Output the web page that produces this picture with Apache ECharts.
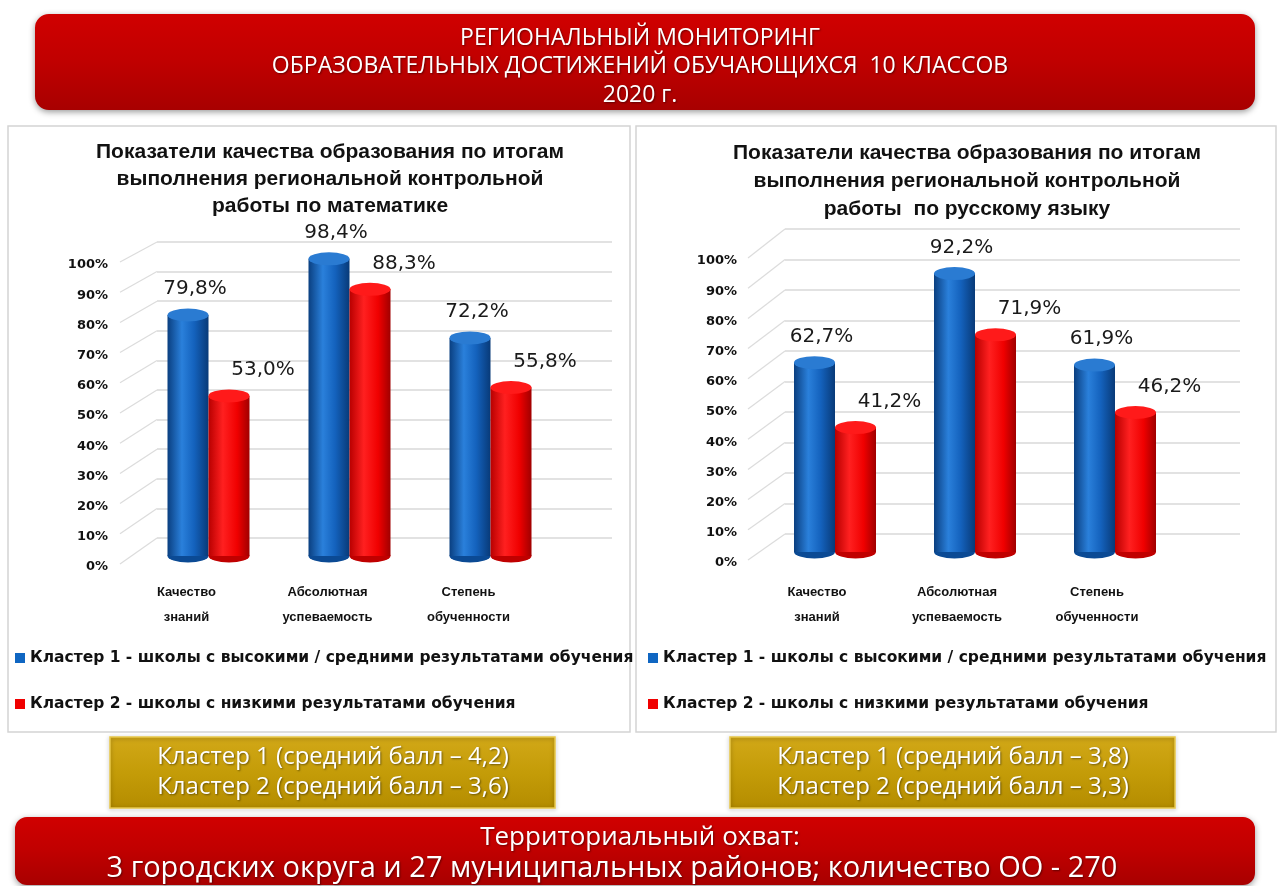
<!DOCTYPE html>
<html>
<head>
<meta charset="utf-8">
<script src="https://cdn.jsdelivr.net/npm/echarts@6/dist/echarts.min.js"></script>
<style>
html, body { margin: 0; padding: 0; background: #fff; }
#chart { width: 1279px; height: 886px; }
</style>
</head>
<body>
<div id="chart"></div>
<script>
// data
const categories = ['Качество\nзнаний', 'Абсолютная\nуспеваемость', 'Степень\nобученности']
const mathCluster1 = [79.8, 98.4, 72.2]
const mathCluster2 = [53.0, 88.3, 55.8]
const rusCluster1 = [62.7, 92.2, 61.9]
const rusCluster2 = [41.2, 71.9, 46.2]
const yTicks = [0, 10, 20, 30, 40, 50, 60, 70, 80, 90, 100]
const clusterNames = [
  'Кластер 1 - школы с высокими / средними результатами обучения',
  'Кластер 2 - школы с низкими результатами обучения'
]
const mathTitle = 'Показатели качества образования по итогам\nвыполнения региональной контрольной\nработы по математике'
const rusTitle = 'Показатели качества образования по итогам\nвыполнения региональной контрольной\nработы  по русскому языку'
const headerLines = ['РЕГИОНАЛЬНЫЙ МОНИТОРИНГ', 'ОБРАЗОВАТЕЛЬНЫХ ДОСТИЖЕНИЙ ОБУЧАЮЩИХСЯ  10 КЛАССОВ', '2020 г.']
const mathScores = ['Кластер 1 (средний балл – 4,2)', 'Кластер 2 (средний балл – 3,6)']
const rusScores = ['Кластер 1 (средний балл – 3,8)', 'Кластер 2 (средний балл – 3,3)']
const footerLines = ['Территориальный охват:', '3 городских округа и 27 муниципальных районов; количество ОО - 270']

const BLUE = '#0f66c2'
const RED = '#f00000'
const blueFill = {
  type: 'linear', x: 0, y: 0, x2: 1, y2: 0,
  colorStops: [
    { offset: 0, color: '#0a3f80' }, { offset: 0.35, color: '#2a80db' },
    { offset: 0.65, color: '#1462bd' }, { offset: 1, color: '#083a78' }
  ]
}
const redFill = {
  type: 'linear', x: 0, y: 0, x2: 1, y2: 0,
  colorStops: [
    { offset: 0, color: '#b80000' }, { offset: 0.35, color: '#ff2020' },
    { offset: 0.7, color: '#f00000' }, { offset: 1, color: '#a00000' }
  ]
}

const pctLabel = p => p.value.toFixed(1).replace('.', ',') + '%'
const FONT = 'Liberation Sans'

function wallAxes (gi) {
  return {
    x: { gridIndex: gi, type: 'category', data: categories, show: false },
    y: {
      gridIndex: gi, type: 'value', min: 0, max: 100, interval: 10,
      axisLabel: { show: false }, axisLine: { show: false }, axisTick: { show: false },
      splitLine: { lineStyle: { color: '#d9d9d9', width: 1.5 } }
    }
  }
}

function barAxes (gi, xMargin, shift, yMargin) {
  return {
    x: {
      gridIndex: gi, type: 'category', data: categories,
      axisLine: { show: false }, axisTick: { show: false },
      axisLabel: {
        margin: xMargin, fontFamily: FONT, fontWeight: 'bold', fontSize: 13,
        color: '#111', lineHeight: 25, padding: [0, shift, 0, 0]
      }
    },
    y: {
      gridIndex: gi, type: 'value', min: 0, max: 100, interval: 10,
      axisLine: { show: false }, axisTick: { show: false }, splitLine: { show: false },
      axisLabel: {
        formatter: '{value}%', fontFamily: 'DejaVu Sans', fontWeight: 'bold',
        fontSize: 13, color: '#111', margin: yMargin, verticalAlign: 'top', lineHeight: 22
      }
    }
  }
}

function chartSeries (gi, c1, c2) {
  const ax = { xAxisIndex: gi, yAxisIndex: gi }
  const cap = (data, color, pos, off, z) => Object.assign({
    type: 'pictorialBar', data: data, symbol: 'circle', symbolSize: [41, 13],
    symbolPosition: pos, symbolOffset: off, barWidth: 41, barGap: '-100%',
    itemStyle: { color: color }, z: z, silent: true
  }, ax)
  return [
    Object.assign({
      name: clusterNames[0], type: 'bar', data: c1, barWidth: 41, barGap: '0%',
      itemStyle: { color: blueFill }, z: 2,
      label: { show: true, position: 'top', distance: 16, offset: [7, 0], formatter: pctLabel,
        fontFamily: 'DejaVu Sans', fontSize: 20, color: '#1a1a1a' }
    }, ax),
    Object.assign({
      name: clusterNames[1], type: 'bar', data: c2, barWidth: 41, barGap: '0%',
      itemStyle: { color: redFill }, z: 2,
      label: { show: true, position: 'top', distance: 16, offset: [34, 0], formatter: pctLabel,
        fontFamily: 'DejaVu Sans', fontSize: 20, color: '#1a1a1a' }
    }, ax),
    cap(c1, '#2a7bd2', 'end', ['-50%', '-50%'], 3),
    cap(c2, '#ff1a1a', 'end', ['50%', '-50%'], 3),
    cap(c1, '#0b4a94', 'start', ['-50%', '50%'], 1),
    cap(c2, '#c00000', 'start', ['50%', '50%'], 1)
  ]
}

const w0 = wallAxes(0), b1 = barAxes(1, 24, 44, 30), w2 = wallAxes(2), b3 = barAxes(3, 28, 36, 28)

function legendFor (left) {
  return {
    left: left, top: 645, orient: 'vertical', itemGap: 30, itemWidth: 10, itemHeight: 10,
    icon: 'rect', selectedMode: false,
    textStyle: { fontFamily: 'DejaVu Sans', fontWeight: 'bold', fontSize: 15.5, color: '#111' },
    data: [
      { name: clusterNames[0], itemStyle: { color: BLUE } },
      { name: clusterNames[1], itemStyle: { color: RED } }
    ]
  }
}

function centerText (x, y, text, size, weight) {
  return {
    type: 'text', x: x, y: y, z: 20,
    style: {
      text: text, fill: '#fff', font: weight + ' ' + size + 'px "Open Sans"',
      align: 'center', verticalAlign: 'middle',
      textShadowColor: 'rgba(0,0,0,0.45)', textShadowBlur: 2, textShadowOffsetX: 1, textShadowOffsetY: 1
    }
  }
}

const redBanner = {
  type: 'linear', x: 0, y: 0, x2: 0, y2: 1,
  colorStops: [{ offset: 0, color: '#d00000' }, { offset: 0.5, color: '#c00000' }, { offset: 1, color: '#a80000' }]
}
const goldFill = {
  type: 'linear', x: 0, y: 0, x2: 0, y2: 1,
  colorStops: [{ offset: 0, color: '#d2a818' }, { offset: 0.5, color: '#c49c08' }, { offset: 1, color: '#b48c00' }]
}

const graphics = [
  { type: 'rect', shape: { x: 8, y: 126, width: 622, height: 606 }, style: { fill: 'none', stroke: '#d4d4d4', lineWidth: 1.5 }, z: 0 },
  { type: 'rect', shape: { x: 636, y: 126, width: 640, height: 606 }, style: { fill: 'none', stroke: '#d4d4d4', lineWidth: 1.5 }, z: 0 },
  { type: 'rect', shape: { x: 35, y: 14, width: 1220, height: 96, r: 14 },
    style: { fill: redBanner, shadowBlur: 6, shadowColor: 'rgba(0,0,0,0.4)', shadowOffsetY: 2 }, z: 10 },
  { type: 'rect', shape: { x: 110, y: 737, width: 445, height: 71 },
    style: { fill: goldFill, stroke: '#e8c84a', lineWidth: 1.5, shadowBlur: 4, shadowColor: 'rgba(0,0,0,0.35)', shadowOffsetY: 1 }, z: 10 },
  { type: 'rect', shape: { x: 730, y: 737, width: 445, height: 71 },
    style: { fill: goldFill, stroke: '#e8c84a', lineWidth: 1.5, shadowBlur: 4, shadowColor: 'rgba(0,0,0,0.35)', shadowOffsetY: 1 }, z: 10 },
  { type: 'rect', shape: { x: 15, y: 817, width: 1240, height: 68, r: 12 },
    style: { fill: redBanner, shadowBlur: 6, shadowColor: 'rgba(0,0,0,0.4)', shadowOffsetY: 2 }, z: 10 },
  centerText(640, 38, headerLines[0], 23, 'normal'),
  centerText(640, 66, headerLines[1], 23, 'normal'),
  centerText(640, 95, headerLines[2], 23, 'normal'),
  centerText(333, 757, mathScores[0], 24, 'normal'),
  centerText(333, 787, mathScores[1], 24, 'normal'),
  centerText(953, 757, rusScores[0], 24, 'normal'),
  centerText(953, 787, rusScores[1], 24, 'normal'),
  centerText(640, 838, footerLines[0], 26, 'normal'),
  centerText(612, 869, footerLines[1], 29, 'normal')
]

const chart = echarts.init(document.getElementById('chart'))
chart.setOption({
  backgroundColor: '#ffffff',
  animation: false,
  title: [
    { text: mathTitle, left: 325, top: 134, textAlign: 'center',
      textStyle: { fontFamily: FONT, fontWeight: 'bold', fontSize: 21, lineHeight: 27, color: '#111' } },
    { text: rusTitle, left: 962, top: 134, textAlign: 'center',
      textStyle: { fontFamily: FONT, fontWeight: 'bold', fontSize: 21, lineHeight: 28, color: '#111' } }
  ],
  legend: [legendFor(10), legendFor(643)],
  grid: [
    { left: 157, top: 242, width: 455, height: 296 },
    { left: 138, top: 254, width: 423, height: 302 },
    { left: 785, top: 229, width: 455, height: 305 },
    { left: 765, top: 250, width: 420, height: 302 }
  ],
  xAxis: [w0.x, b1.x, w2.x, b3.x],
  yAxis: [w0.y, b1.y, w2.y, b3.y],
  series: chartSeries(1, mathCluster1, mathCluster2).concat(chartSeries(3, rusCluster1, rusCluster2)),
  graphic: graphics
})

// faint side-wall lines joining each tick label to its back-wall gridline
function sideLines (wallIdx, barIdx, x0, x1) {
  return yTicks.map(v => ({
    type: 'line', z: 0, silent: true,
    shape: {
      x1: x0, y1: chart.convertToPixel({ yAxisIndex: barIdx }, v) + 8,
      x2: x1, y2: chart.convertToPixel({ yAxisIndex: wallIdx }, v)
    },
    style: { stroke: '#dcdcdc', lineWidth: 1.2 }
  }))
}
chart.setOption({
  graphic: graphics.concat(sideLines(0, 1, 120, 157), sideLines(2, 3, 748, 785))
})
</script>
</body>
</html>
